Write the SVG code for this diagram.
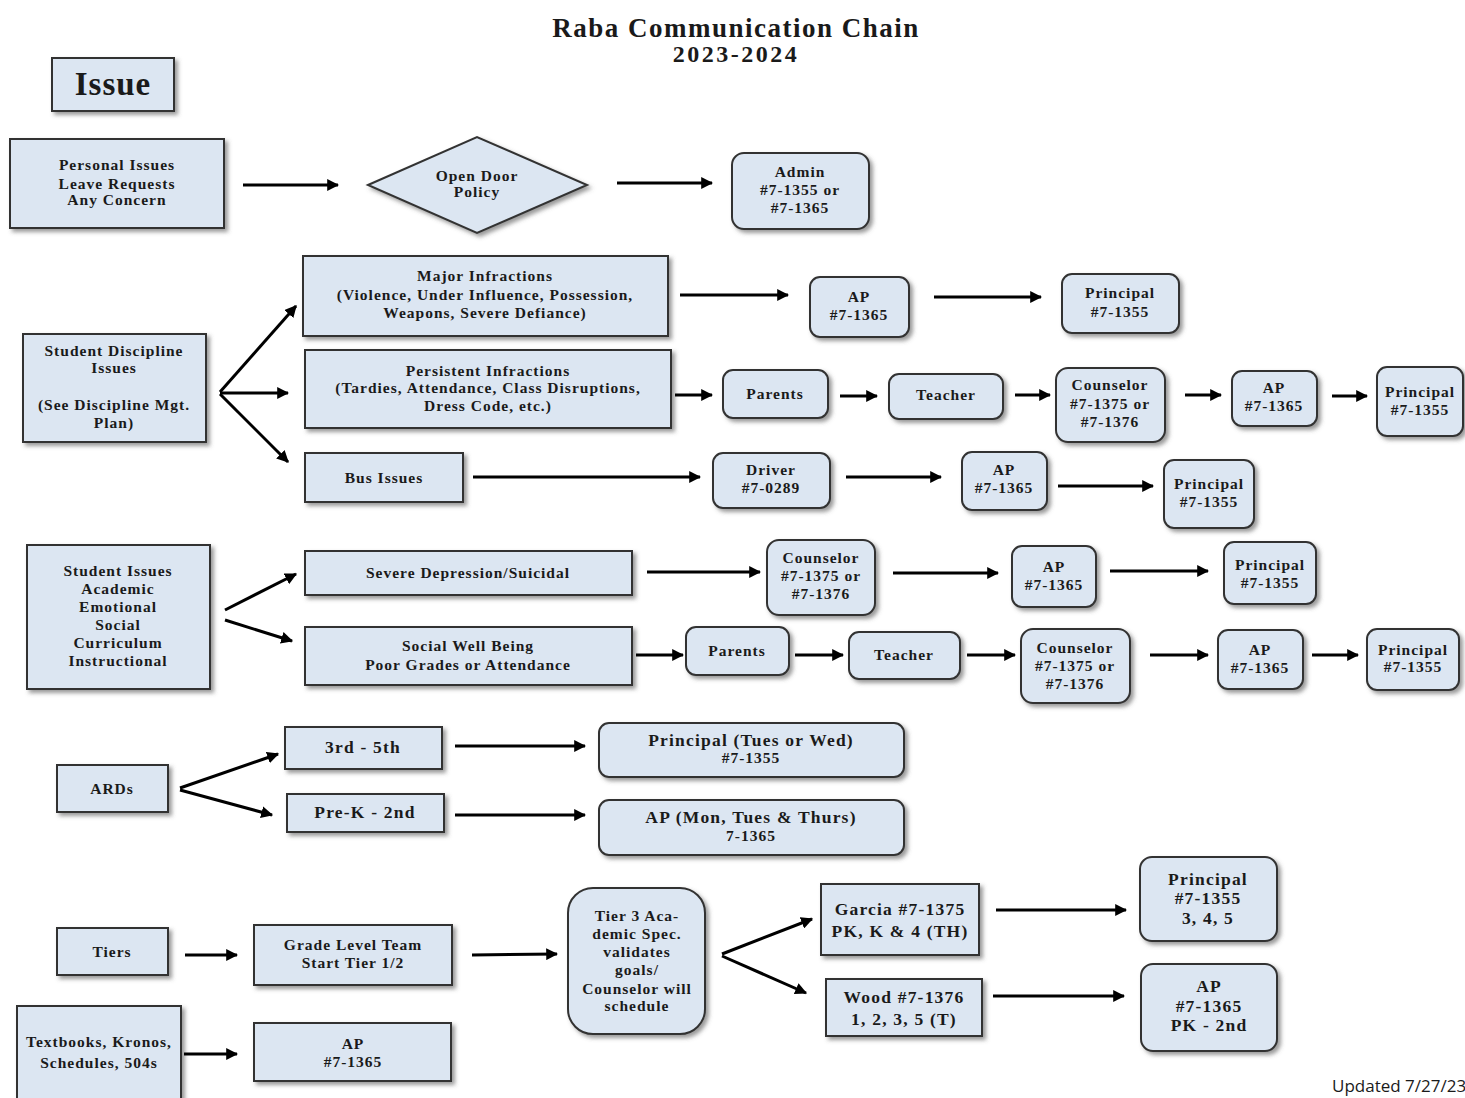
<svg xmlns="http://www.w3.org/2000/svg" width="1465" height="1098" viewBox="0 0 1465 1098">
<defs>
<filter id="sh" x="-10%" y="-10%" width="130%" height="140%">
<feDropShadow dx="3" dy="3" stdDeviation="2" flood-color="#555" flood-opacity="0.6"/>
</filter>
<marker id="ah" viewBox="0 0 10 10" refX="9" refY="5" markerWidth="4" markerHeight="4" orient="auto" markerUnits="strokeWidth">
<path d="M0,0 L10,5 L0,10 z" fill="#000"/>
</marker>
</defs>
<style>
.b{fill:#dce6f2;stroke:#333;stroke-width:2;filter:url(#sh)}
text{font-family:"Liberation Serif","DejaVu Serif",serif;font-weight:bold;font-size:15.5px;letter-spacing:1px;fill:#1a1a1a;text-anchor:middle}
.big{font-size:17.5px;letter-spacing:1.2px}
.c line{stroke:#000;stroke-width:3;marker-end:url(#ah)}
</style>
<rect width="1465" height="1098" fill="#fff"/>
<text x="736" y="37" style="font-size:27px;letter-spacing:1.5px">Raba Communication Chain</text>
<text x="736" y="62" style="font-size:24px;letter-spacing:2.5px">2023-2024</text>

<g id="issue"><rect class="b" x="52" y="58" width="122" height="53"/><text x="113" y="95" style="font-size:33px">Issue</text></g>

<g id="personal"><rect class="b" x="10" y="139" width="214" height="89"/><text x="117" y="170">Personal Issues</text><text x="117" y="189">Leave Requests</text><text x="117" y="205">Any Concern</text></g>
<g id="opendoor"><polygon class="b" points="368,185 477,137 587,185 477,233"/><text x="477" y="181">Open Door</text><text x="477" y="197">Policy</text></g>
<g id="admin"><rect class="b" x="732" y="153" width="137" height="76" rx="12"/><text x="800" y="177">Admin</text><text x="800" y="195">#7-1355 or</text><text x="800" y="213">#7-1365</text></g>

<g id="major"><rect class="b" x="303" y="256" width="365" height="80"/><text x="485" y="281">Major Infractions</text><text x="485" y="300">(Violence, Under Influence, Possession,</text><text x="485" y="318">Weapons, Severe Defiance)</text></g>
<g id="ap1"><rect class="b" x="810" y="277" width="99" height="60" rx="10"/><text x="859" y="302">AP</text><text x="859" y="320">#7-1365</text></g>
<g id="pr1"><rect class="b" x="1062" y="274" width="117" height="59" rx="10"/><text x="1120" y="298">Principal</text><text x="1120" y="317">#7-1355</text></g>

<g id="discipline"><rect class="b" x="23" y="334" width="183" height="108"/><text x="114" y="356">Student Discipline</text><text x="114" y="373">Issues</text><text x="114" y="410">(See Discipline Mgt.</text><text x="114" y="428">Plan)</text></g>

<g id="persistent"><rect class="b" x="305" y="350" width="366" height="78"/><text x="488" y="376">Persistent Infractions</text><text x="488" y="393">(Tardies, Attendance, Class Disruptions,</text><text x="488" y="411">Dress Code, etc.)</text></g>
<g id="parents1"><rect class="b" x="723" y="370" width="105" height="48" rx="10"/><text x="775" y="399">Parents</text></g>
<g id="teacher1"><rect class="b" x="889" y="374" width="114" height="45" rx="10"/><text x="946" y="400">Teacher</text></g>
<g id="couns1"><rect class="b" x="1056" y="368" width="109" height="74" rx="12"/><text x="1110" y="390">Counselor</text><text x="1110" y="409">#7-1375 or</text><text x="1110" y="427">#7-1376</text></g>
<g id="ap2"><rect class="b" x="1232" y="371" width="85" height="55" rx="10"/><text x="1274" y="393">AP</text><text x="1274" y="411">#7-1365</text></g>
<g id="pr2"><rect class="b" x="1377" y="367" width="86" height="69" rx="10"/><text x="1420" y="397">Principal</text><text x="1420" y="415">#7-1355</text></g>

<g id="bus"><rect class="b" x="305" y="453" width="158" height="49"/><text x="384" y="483">Bus Issues</text></g>
<g id="driver"><rect class="b" x="713" y="453" width="117" height="55" rx="10"/><text x="771" y="475">Driver</text><text x="771" y="493">#7-0289</text></g>
<g id="ap3"><rect class="b" x="962" y="452" width="85" height="58" rx="10"/><text x="1004" y="475">AP</text><text x="1004" y="493">#7-1365</text></g>
<g id="pr3"><rect class="b" x="1164" y="460" width="90" height="68" rx="10"/><text x="1209" y="489">Principal</text><text x="1209" y="507">#7-1355</text></g>

<g id="studentissues"><rect class="b" x="27" y="545" width="183" height="144"/><text x="118" y="576">Student Issues</text><text x="118" y="594">Academic</text><text x="118" y="612">Emotional</text><text x="118" y="630">Social</text><text x="118" y="648">Curriculum</text><text x="118" y="666">Instructional</text></g>

<g id="severe"><rect class="b" x="305" y="551" width="327" height="44"/><text x="468" y="578">Severe Depression/Suicidal</text></g>
<g id="couns2"><rect class="b" x="767" y="540" width="108" height="75" rx="12"/><text x="821" y="563">Counselor</text><text x="821" y="581">#7-1375 or</text><text x="821" y="599">#7-1376</text></g>
<g id="ap4"><rect class="b" x="1012" y="546" width="84" height="61" rx="10"/><text x="1054" y="572">AP</text><text x="1054" y="590">#7-1365</text></g>
<g id="pr4"><rect class="b" x="1224" y="542" width="92" height="62" rx="10"/><text x="1270" y="570">Principal</text><text x="1270" y="588">#7-1355</text></g>

<g id="social"><rect class="b" x="305" y="627" width="327" height="58"/><text x="468" y="651">Social Well Being</text><text x="468" y="670">Poor Grades or Attendance</text></g>
<g id="parents2"><rect class="b" x="686" y="627" width="103" height="48" rx="10"/><text x="737" y="656">Parents</text></g>
<g id="teacher2"><rect class="b" x="849" y="632" width="111" height="47" rx="10"/><text x="904" y="660">Teacher</text></g>
<g id="couns3"><rect class="b" x="1021" y="629" width="109" height="74" rx="12"/><text x="1075" y="653">Counselor</text><text x="1075" y="671">#7-1375 or</text><text x="1075" y="689">#7-1376</text></g>
<g id="ap5"><rect class="b" x="1218" y="630" width="85" height="59" rx="10"/><text x="1260" y="655">AP</text><text x="1260" y="673">#7-1365</text></g>
<g id="pr5"><rect class="b" x="1367" y="629" width="92" height="61" rx="10"/><text x="1413" y="655">Principal</text><text x="1413" y="672">#7-1355</text></g>

<g id="ards"><rect class="b" x="57" y="765" width="111" height="47"/><text x="112" y="794">ARDs</text></g>
<g id="g35"><rect class="b" x="285" y="727" width="157" height="42"/><text x="363" y="753" class="big">3rd - 5th</text></g>
<g id="prTW"><rect class="b" x="599" y="723" width="305" height="54" rx="10"/><text x="751" y="746" class="big">Principal (Tues or Wed)</text><text x="751" y="763">#7-1355</text></g>
<g id="pk2"><rect class="b" x="287" y="794" width="157" height="38"/><text x="365" y="818" class="big">Pre-K - 2nd</text></g>
<g id="apMTT"><rect class="b" x="599" y="800" width="305" height="55" rx="10"/><text x="751" y="823" class="big">AP (Mon, Tues &amp; Thurs)</text><text x="751" y="841">7-1365</text></g>

<g id="tiers"><rect class="b" x="57" y="928" width="111" height="47"/><text x="112" y="957">Tiers</text></g>
<g id="glt"><rect class="b" x="254" y="925" width="198" height="60"/><text x="353" y="950">Grade Level Team</text><text x="353" y="968">Start Tier 1/2</text></g>
<g id="tier3"><rect class="b" x="568" y="888" width="137" height="146" rx="25"/><text x="637" y="921">Tier 3 Aca-</text><text x="637" y="939">demic Spec.</text><text x="637" y="957">validates</text><text x="637" y="975">goals/</text><text x="637" y="994">Counselor will</text><text x="637" y="1011">schedule</text></g>
<g id="garcia"><rect class="b" x="821" y="884" width="158" height="71"/><text x="900" y="915" class="big">Garcia #7-1375</text><text x="900" y="937" class="big">PK, K &amp; 4 (TH)</text></g>
<g id="wood"><rect class="b" x="826" y="979" width="156" height="57"/><text x="904" y="1003" class="big">Wood #7-1376</text><text x="904" y="1025" class="big">1, 2, 3, 5 (T)</text></g>
<g id="pr6"><rect class="b" x="1140" y="857" width="137" height="84" rx="12"/><text x="1208" y="885" class="big">Principal</text><text x="1208" y="904" class="big">#7-1355</text><text x="1208" y="924" class="big">3, 4, 5</text></g>
<g id="ap6"><rect class="b" x="1141" y="964" width="136" height="87" rx="12"/><text x="1209" y="992" class="big">AP</text><text x="1209" y="1012" class="big">#7-1365</text><text x="1209" y="1031" class="big">PK - 2nd</text></g>

<g id="textbooks"><rect class="b" x="17" y="1006" width="164" height="96"/><text x="99" y="1047">Textbooks, Kronos,</text><text x="99" y="1068">Schedules, 504s</text></g>
<g id="ap7"><rect class="b" x="254" y="1023" width="197" height="58"/><text x="353" y="1049">AP</text><text x="353" y="1067">#7-1365</text></g>

<text x="1332" y="1092" style="font-family:'Open Sans','DejaVu Sans',sans-serif;font-weight:normal;font-size:17px;letter-spacing:0;text-anchor:start">Updated 7/27/23</text>

<g id="connectors" class="c">
<line x1="243" y1="185" x2="338" y2="185"/>
<line x1="617" y1="183" x2="712" y2="183"/>
<line x1="680" y1="295" x2="788" y2="295"/>
<line x1="934" y1="297" x2="1041" y2="297"/>
<line x1="220" y1="392" x2="296" y2="306"/>
<line x1="220" y1="393" x2="288" y2="393"/>
<line x1="220" y1="394" x2="288" y2="462"/>
<line x1="675" y1="395" x2="712" y2="395"/>
<line x1="840" y1="396" x2="877" y2="396"/>
<line x1="1015" y1="395" x2="1050" y2="395"/>
<line x1="1185" y1="395" x2="1221" y2="395"/>
<line x1="1332" y1="396" x2="1367" y2="396"/>
<line x1="473" y1="477" x2="700" y2="477"/>
<line x1="846" y1="477" x2="941" y2="477"/>
<line x1="1058" y1="486" x2="1153" y2="486"/>
<line x1="225" y1="610" x2="296" y2="574"/>
<line x1="225" y1="620" x2="292" y2="641"/>
<line x1="647" y1="572" x2="760" y2="572"/>
<line x1="893" y1="573" x2="998" y2="573"/>
<line x1="1110" y1="571" x2="1208" y2="571"/>
<line x1="636" y1="655" x2="683" y2="655"/>
<line x1="795" y1="655" x2="843" y2="655"/>
<line x1="967" y1="655" x2="1015" y2="655"/>
<line x1="1150" y1="655" x2="1208" y2="655"/>
<line x1="1312" y1="655" x2="1358" y2="655"/>
<line x1="180" y1="788" x2="278" y2="754"/>
<line x1="180" y1="790" x2="272" y2="815"/>
<line x1="455" y1="746" x2="585" y2="746"/>
<line x1="455" y1="815" x2="585" y2="815"/>
<line x1="185" y1="955" x2="237" y2="955"/>
<line x1="472" y1="955" x2="557" y2="954"/>
<line x1="722" y1="954" x2="812" y2="919"/>
<line x1="722" y1="956" x2="806" y2="993"/>
<line x1="996" y1="910" x2="1126" y2="910"/>
<line x1="993" y1="996" x2="1124" y2="996"/>
<line x1="184" y1="1054" x2="237" y2="1054"/>
</g>
</svg>
